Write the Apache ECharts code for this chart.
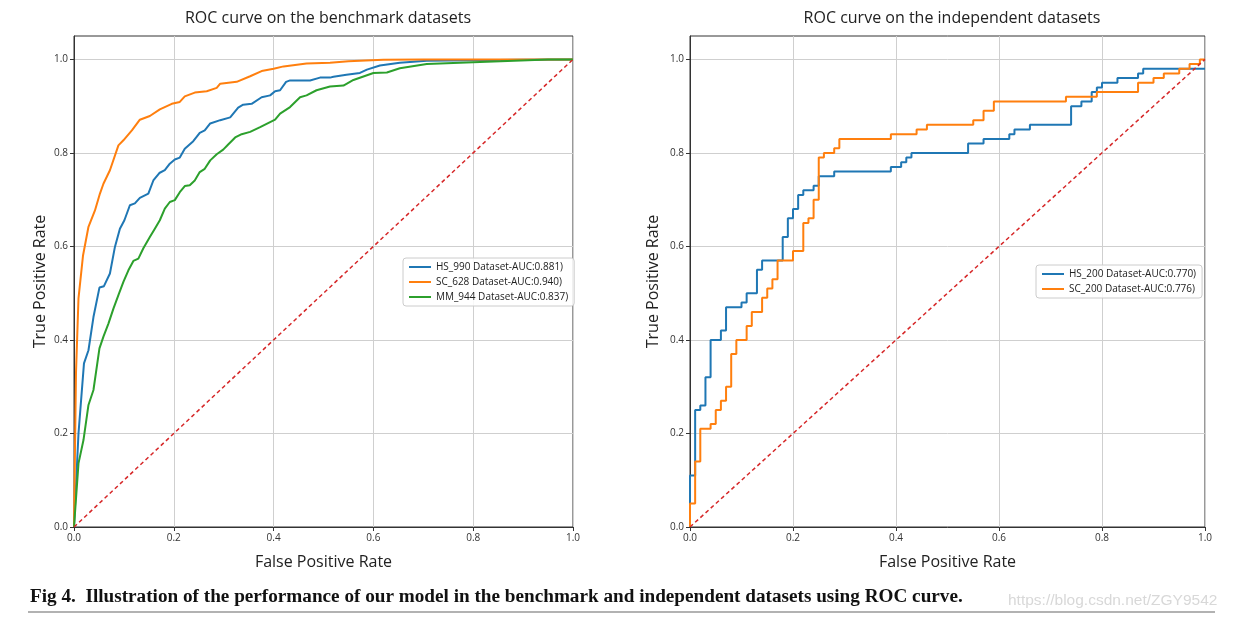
<!DOCTYPE html>
<html>
<head>
<meta charset="utf-8">
<script src="https://cdn.jsdelivr.net/npm/echarts@6/dist/echarts.min.js"></script>
<style>
html,body{margin:0;padding:0;background:#fff;}
#chart{width:1235px;height:620px;}
</style>
</head>
<body>
<div id="chart"></div>
<script>
// ---- Data ----
const tickValues = [0, 0.2, 0.4, 0.6, 0.8, 1.0];

// Left panel: benchmark datasets
const hs990Fpr = [0,0.009,0.02,0.029,0.039,0.051,0.06,0.072,0.082,0.092,0.101,0.112,0.122,0.132,0.149,0.159,0.171,0.182,0.192,0.202,0.212,0.222,0.239,0.252,0.262,0.273,0.293,0.313,0.329,0.339,0.356,0.376,0.393,0.403,0.413,0.425,0.433,0.473,0.493,0.513,0.52,0.546,0.573,0.587,0.613,0.653,0.707,0.8,0.9,1.0];
const hs990Tpr = [0,0.2,0.35,0.378,0.449,0.512,0.515,0.542,0.599,0.638,0.656,0.688,0.692,0.704,0.713,0.741,0.757,0.763,0.777,0.786,0.79,0.809,0.825,0.843,0.848,0.863,0.87,0.876,0.897,0.903,0.905,0.919,0.923,0.932,0.934,0.952,0.955,0.955,0.961,0.961,0.963,0.967,0.971,0.978,0.987,0.993,0.997,0.998,0.999,1.0];

const sc628Fpr = [0,0.004,0.009,0.018,0.029,0.042,0.052,0.059,0.072,0.089,0.099,0.116,0.132,0.152,0.172,0.196,0.212,0.222,0.242,0.266,0.286,0.293,0.326,0.353,0.376,0.40,0.42,0.466,0.513,0.55,0.62,0.7,1.0];
const sc628Tpr = [0,0.33,0.489,0.58,0.642,0.677,0.713,0.734,0.763,0.816,0.827,0.848,0.871,0.879,0.893,0.905,0.909,0.921,0.929,0.932,0.939,0.948,0.952,0.964,0.975,0.98,0.985,0.991,0.993,0.996,0.999,1.0,1.0];

const mm944Fpr = [0,0.009,0.019,0.029,0.039,0.051,0.059,0.069,0.079,0.089,0.099,0.109,0.119,0.129,0.139,0.152,0.162,0.172,0.182,0.192,0.202,0.212,0.222,0.232,0.242,0.252,0.262,0.273,0.286,0.299,0.309,0.323,0.336,0.353,0.373,0.393,0.403,0.413,0.433,0.453,0.466,0.486,0.513,0.54,0.56,0.60,0.627,0.653,0.707,0.80,0.855,0.95,1.0];
const mm944Tpr = [0,0.136,0.186,0.261,0.293,0.382,0.407,0.435,0.467,0.496,0.524,0.549,0.569,0.574,0.596,0.62,0.638,0.656,0.681,0.695,0.699,0.716,0.729,0.731,0.741,0.759,0.766,0.784,0.797,0.807,0.818,0.833,0.84,0.845,0.855,0.866,0.871,0.884,0.898,0.919,0.923,0.934,0.942,0.944,0.956,0.971,0.972,0.981,0.99,0.994,0.996,1.0,1.0];

// Right panel: independent datasets (step curves)
const hs200Fpr = [0,0,0.01,0.02,0.03,0.04,0.06,0.07,0.10,0.11,0.13,0.14,0.18,0.19,0.20,0.21,0.22,0.24,0.25,0.28,0.39,0.41,0.42,0.43,0.54,0.57,0.62,0.63,0.66,0.74,0.76,0.78,0.79,0.80,0.83,0.87,0.88,1.0];
const hs200Tpr = [0,0.11,0.25,0.26,0.32,0.40,0.42,0.47,0.48,0.50,0.55,0.57,0.62,0.66,0.68,0.71,0.72,0.73,0.75,0.76,0.77,0.78,0.79,0.80,0.82,0.83,0.84,0.85,0.86,0.90,0.91,0.93,0.94,0.95,0.96,0.97,0.98,0.98];

const sc200Fpr = [0,0,0.01,0.02,0.04,0.05,0.06,0.07,0.08,0.09,0.11,0.12,0.14,0.15,0.16,0.17,0.20,0.22,0.23,0.24,0.25,0.26,0.28,0.29,0.39,0.44,0.46,0.55,0.57,0.59,0.73,0.79,0.87,0.90,0.92,0.95,0.97,0.99,1.0];
const sc200Tpr = [0,0.05,0.14,0.21,0.22,0.25,0.27,0.30,0.37,0.40,0.43,0.46,0.49,0.51,0.53,0.57,0.59,0.65,0.66,0.70,0.79,0.80,0.81,0.83,0.84,0.85,0.86,0.87,0.89,0.91,0.92,0.93,0.95,0.96,0.97,0.98,0.99,1.0,1.0];

const chanceFpr = [0, 1];
const chanceTpr = [0, 1];

const leftLegend = ['HS_990 Dataset-AUC:0.881)', 'SC_628 Dataset-AUC:0.940)', 'MM_944 Dataset-AUC:0.837)'];
const rightLegend = ['HS_200 Dataset-AUC:0.770)', 'SC_200 Dataset-AUC:0.776)'];
const titles = ['ROC curve on the benchmark datasets', 'ROC curve on the independent datasets'];
const caption = 'Fig 4.  Illustration of the performance of our model in the benchmark and independent datasets using ROC curve.';
const watermark = 'https://blog.csdn.net/ZGY9542';

// ---- Build ----
const C_BLUE = '#1f77b4', C_ORANGE = '#ff7f0e', C_GREEN = '#2ca02c', C_RED = '#d62728';
const zip = (a, b) => a.map((v, i) => [v, b[i]]);
const FONT = '"Open Sans", "DejaVu Sans", sans-serif';

function xAxis(gi) {
  return {
    type: 'value', gridIndex: gi, min: 0, max: 1, interval: 0.2,
    name: 'False Positive Rate', nameLocation: 'middle', nameGap: 27,
    nameTextStyle: { fontSize: 16, color: '#222', fontFamily: FONT },
    axisLine: { show: true, lineStyle: { color: '#333', width: 1 } },
    axisTick: { show: true, length: 4, lineStyle: { color: '#333' } },
    axisLabel: { fontSize: 10, color: '#333', margin: 6, fontFamily: FONT, formatter: v => v.toFixed(1) },
    splitLine: { show: true, lineStyle: { color: '#cfcfcf', width: 1 } }
  };
}
function yAxis(gi, gap) {
  return {
    type: 'value', gridIndex: gi, min: 0, max: 1.05,
    name: 'True Positive Rate', nameLocation: 'middle', nameGap: gap,
    nameTextStyle: { fontSize: 16, color: '#222', fontFamily: FONT },
    axisLine: { show: true, lineStyle: { color: '#333', width: 1 } },
    axisTick: { show: true, length: 4, lineStyle: { color: '#333' }, customValues: tickValues },
    axisLabel: { fontSize: 10, color: '#333', margin: 6, fontFamily: FONT, customValues: tickValues, formatter: v => v.toFixed(1) },
    splitLine: { show: true, lineStyle: { color: '#cfcfcf', width: 1 } }
  };
}
function lineSeries(name, xi, data, color) {
  return {
    name, type: 'line', xAxisIndex: xi, yAxisIndex: xi, data, showSymbol: false, symbol: 'none',
    lineStyle: { color, width: 2 }, itemStyle: { color }, silent: true, animation: false
  };
}
function stepSeries(name, xi, data, color) {
  const s = lineSeries(name, xi, data, color);
  s.step = 'end';
  return s;
}
function chance(xi) {
  return {
    type: 'line', xAxisIndex: xi, yAxisIndex: xi, data: zip(chanceFpr, chanceTpr), symbol: 'none',
    lineStyle: { color: C_RED, width: 1.5, type: [4, 3] }, silent: true, animation: false, z: 3
  };
}
const legendCommon = {
  orient: 'vertical', icon: 'rect', itemWidth: 22, itemHeight: 2, itemGap: 5,
  backgroundColor: 'rgba(255,255,255,0.85)', borderColor: '#ccc', borderWidth: 1, borderRadius: 3,
  padding: [4, 6, 4, 6], textStyle: { fontSize: 10, color: '#222', fontFamily: FONT }
};

const chart = echarts.init(document.getElementById('chart'), null, { renderer: 'canvas' });
chart.setOption({
  animation: false,
  backgroundColor: '#fff',
  title: [
    { text: titles[0], left: 323, top: 5, textAlign: 'center', textStyle: { fontSize: 16, fontWeight: 'normal', color: '#222', fontFamily: FONT } },
    { text: titles[1], left: 947, top: 5, textAlign: 'center', textStyle: { fontSize: 16, fontWeight: 'normal', color: '#222', fontFamily: FONT } }
  ],
  grid: [
    { left: 74, right: 662, top: 36, bottom: 93, show: true, borderColor: '#333', borderWidth: 1, backgroundColor: 'transparent' },
    { left: 690, right: 30, top: 36, bottom: 93, show: true, borderColor: '#333', borderWidth: 1, backgroundColor: 'transparent' }
  ],
  xAxis: [xAxis(0), xAxis(1)],
  yAxis: [yAxis(0, 26), yAxis(1, 29)],
  legend: [
    Object.assign({}, legendCommon, { data: leftLegend, left: 403, top: 258 }),
    Object.assign({}, legendCommon, { data: rightLegend, left: 1036, top: 265 })
  ],
  series: [
    lineSeries(leftLegend[0], 0, zip(hs990Fpr, hs990Tpr), C_BLUE),
    lineSeries(leftLegend[1], 0, zip(sc628Fpr, sc628Tpr), C_ORANGE),
    lineSeries(leftLegend[2], 0, zip(mm944Fpr, mm944Tpr), C_GREEN),
    chance(0),
    stepSeries(rightLegend[0], 1, zip(hs200Fpr, hs200Tpr), C_BLUE),
    stepSeries(rightLegend[1], 1, zip(sc200Fpr, sc200Tpr), C_ORANGE),
    chance(1)
  ],
  graphic: [
    { type: 'text', left: 30, top: 588, style: { text: caption, fontSize: 19.2, fontWeight: 'bold', fill: '#111', fontFamily: '"Liberation Serif", "DejaVu Serif", serif' } },
    { type: 'text', left: 1008, top: 593, style: { text: watermark, fontSize: 15.5, fill: '#d8d8d8', fontFamily: '"Liberation Sans", Arial, sans-serif' } },
    { type: 'line', shape: { x1: 28, y1: 612, x2: 1215, y2: 612 }, style: { stroke: '#999', lineWidth: 1.5 } }
  ]
});
</script>
</body>
</html>
